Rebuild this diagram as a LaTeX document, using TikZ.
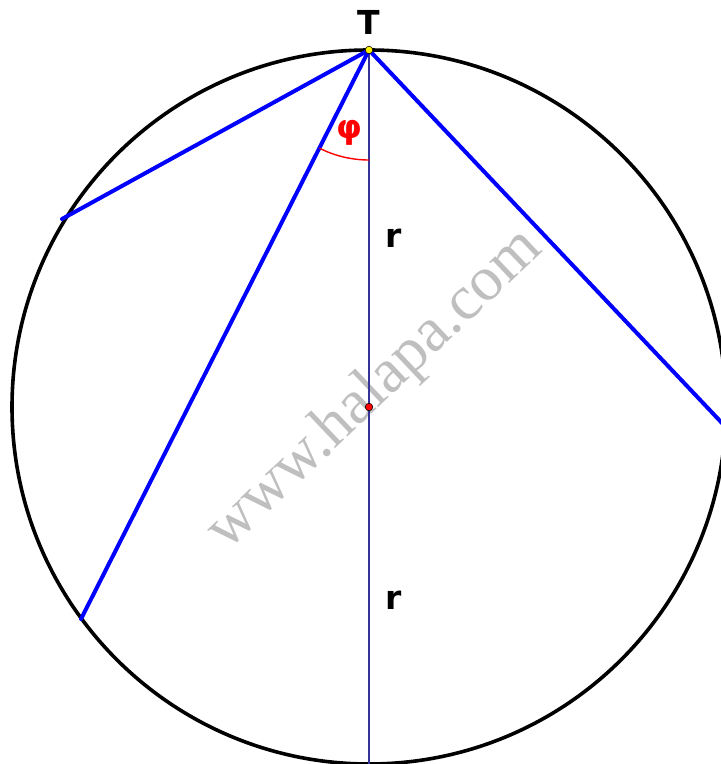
\documentclass[tikz,border=0pt]{standalone}
\usepackage{fontspec}
\setmainfont{DejaVu Sans}
\newfontfamily\wmfont{Liberation Serif}
\usetikzlibrary{calc}

\begin{document}
\begin{tikzpicture}[
    x=0.5pt, y=-0.5pt,
    rim/.style={draw=black, line width=1.8pt},
    chord/.style={draw=blue, line width=2pt, line cap=round},
    axis/.style={draw=blue!50!black!80, line width=0.9pt},
    anglearc/.style={draw=red, line width=0.7pt},
    dot/.style={circle, draw=black, line width=0.3pt, inner sep=0pt, minimum size=3.8pt},
    label/.style={font=\fontsize{16.5}{20}\selectfont\bfseries, inner sep=0pt},
    watermark/.style={font=\wmfont\fontsize{31.5}{36}\selectfont, text=black!25, inner sep=0pt}
]
\useasboundingbox (0,0) rectangle (721,764);
\clip (0,0) rectangle (721,764);

% Points
\coordinate (O) at (369,407);
\coordinate (T) at (369,50);
\coordinate (A) at (62,219);
\coordinate (B) at (81,619);
\coordinate (C) at (726.5,427.8);
\coordinate (D) at (369,764);

% Watermark
\node[watermark, rotate=43.5] (wm) at (375,390) {www.halapa.com};

% Circle and diameter
\draw[rim] (O) circle[radius=357];
\draw[axis] (T) -- (D);

% Chords
\draw[chord] (T) -- (A);
\draw[chord] (T) -- (B);
\draw[chord] (T) -- (C);

% Angle
\draw[anglearc] ($(T)+(90:110)$) arc[start angle=90, end angle=116.8, radius=110];

% Labels
\node[label] (lT) at (369,22) {T};
\node[label, text=red] (lphi) at (349,133) {φ};
\node[label] (r1) at (394,238) {r};
\node[label] (r2) at (394,600) {r};

% Dots
\node[dot, fill=yellow] (pT) at (T) {};
\node[dot, fill=red] (pO) at (O) {};

\end{tikzpicture}
\end{document}
